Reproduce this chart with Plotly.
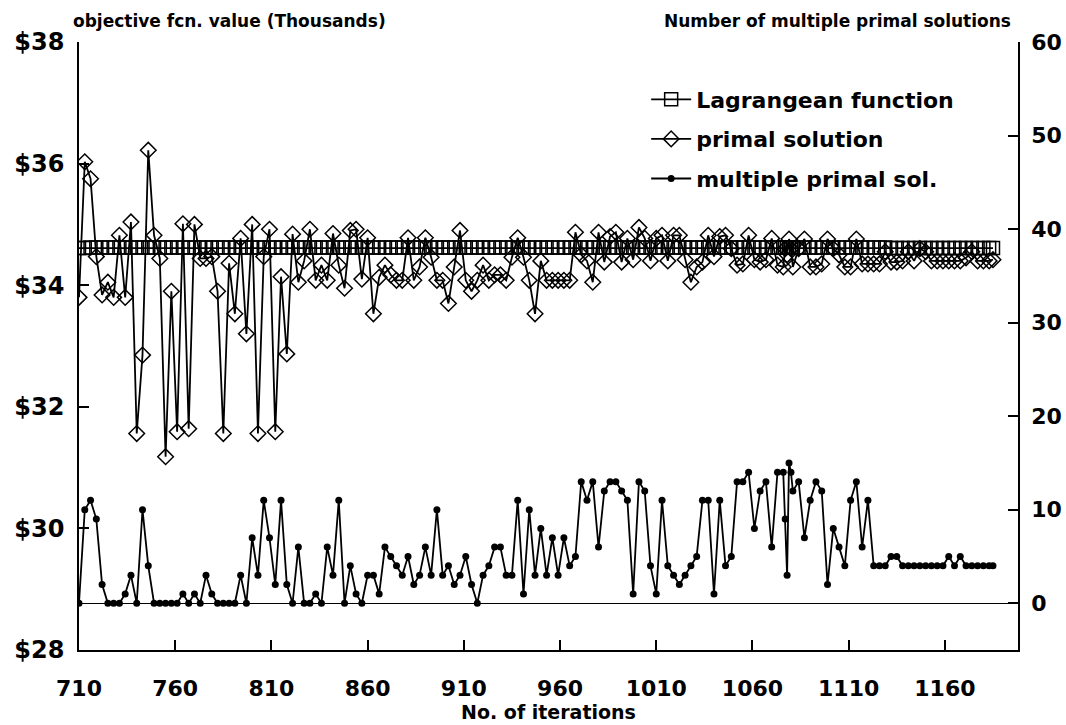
import plotly.graph_objects as go

# Iteration numbers (x) shared by all series
ITER_A = list(range(710, 1077, 3))              # 710 .. 1076
ITER_B = [1077, 1078, 1079, 1080, 1081]
ITER_C = [1084, 1087, 1090, 1093, 1096, 1099, 1102, 1105, 1108, 1111, 1114, 1117, 1120]
ITER_D = [1123, 1126, 1129, 1132, 1135, 1138, 1141, 1144, 1147, 1150, 1153,
          1156, 1159, 1162, 1165, 1168, 1171, 1174, 1177, 1180, 1183, 1185]
ITERATIONS = ITER_A + ITER_B + ITER_C + ITER_D

# Lagrangean function value (thousands of $)
LAGRANGEAN = [
    34.61, 34.61, 34.62, 34.62, 34.62, 34.62, 34.62, 34.62, 34.62, 34.62,
    34.62, 34.62, 34.62, 34.62, 34.62, 34.62, 34.62, 34.62, 34.62, 34.62,
    34.62, 34.62, 34.62, 34.62, 34.62, 34.62, 34.62, 34.62, 34.62, 34.62,
    34.62, 34.62, 34.62, 34.62, 34.62, 34.62, 34.62, 34.62, 34.62, 34.62,
    34.62, 34.62, 34.62, 34.62, 34.62, 34.62, 34.62, 34.62, 34.62, 34.62,
    34.62, 34.62, 34.62, 34.62, 34.62, 34.62, 34.62, 34.62, 34.62, 34.62,
    34.62, 34.62, 34.62, 34.62, 34.62, 34.62, 34.62, 34.62, 34.62, 34.62,
    34.62, 34.62, 34.62, 34.62, 34.62, 34.62, 34.62, 34.62, 34.62, 34.62,
    34.62, 34.62, 34.62, 34.62, 34.62, 34.62, 34.62, 34.62, 34.62, 34.62,
    34.62, 34.62, 34.62, 34.62, 34.62, 34.62, 34.62, 34.62, 34.62, 34.62,
    34.62, 34.62, 34.62, 34.62, 34.62, 34.62, 34.62, 34.62, 34.62, 34.62,
    34.62, 34.62, 34.62, 34.62, 34.62, 34.62, 34.62, 34.62, 34.62, 34.62,
    34.62, 34.62, 34.62, 34.62, 34.62, 34.62, 34.62, 34.62, 34.62, 34.62,
    34.62, 34.62, 34.62, 34.62, 34.62, 34.62, 34.62, 34.62, 34.62, 34.62,
    34.62, 34.62, 34.62, 34.62, 34.61, 34.61, 34.61, 34.61, 34.61, 34.61,
    34.61, 34.61, 34.61, 34.61, 34.61, 34.61, 34.61, 34.61, 34.61, 34.61,
    34.61, 34.61, 34.61,
]

# Primal solution value (thousands of $)
PRIMAL = [
    33.80, 36.03, 35.75, 34.47, 33.84, 34.05, 33.80, 34.82, 33.80, 35.04,
    31.56, 32.85, 36.22, 34.82, 34.44, 31.18, 33.90, 31.59, 35.01, 31.64,
    35.00, 34.44, 34.44, 34.47, 33.90, 31.56, 34.36, 33.53, 34.77, 33.20,
    35.00, 31.56, 34.47, 34.92, 31.59, 34.14, 32.87, 34.84, 34.05, 34.40,
    34.92, 34.08, 34.33, 34.08, 34.85, 34.33, 33.95, 34.90, 34.92, 34.10,
    34.78, 33.53, 34.13, 34.33, 34.17, 34.08, 34.08, 34.78, 34.08, 34.30,
    34.78, 34.46, 34.08, 34.08, 33.70, 34.30, 34.90, 34.08, 33.90, 34.08,
    34.33, 34.08, 34.17, 34.17, 34.08, 34.46, 34.78, 34.46, 34.08, 33.53,
    34.40, 34.08, 34.08, 34.08, 34.08, 34.08, 34.87, 34.50, 34.40, 34.05,
    34.87, 34.38, 34.80, 34.87, 34.38, 34.77, 34.42, 34.95, 34.77, 34.40,
    34.77, 34.82, 34.40, 34.82, 34.82, 34.42, 34.05, 34.30, 34.38, 34.82,
    34.47, 34.80, 34.82, 34.60, 34.33, 34.35, 34.82, 34.42, 34.38, 34.42,
    34.77, 34.33, 34.30,
    34.60, 34.50, 34.76, 34.60, 34.30,
    34.60, 34.76, 34.30, 34.30, 34.35, 34.76, 34.60, 34.50, 34.30, 34.30,
    34.76, 34.35, 34.35,
    34.35, 34.35, 34.55, 34.38, 34.38, 34.40, 34.55, 34.40, 34.60, 34.55,
    34.40, 34.40, 34.40, 34.40, 34.40, 34.40, 34.45, 34.55, 34.40, 34.40,
    34.40, 34.42,
]

# Number of multiple primal solutions (right axis)
MULTIPLE = [
    0, 10, 11, 9, 2, 0, 0, 0, 1, 3,
    0, 10, 4, 0, 0, 0, 0, 0, 1, 0,
    1, 0, 3, 1, 0, 0, 0, 0, 3, 0,
    7, 3, 11, 7, 2, 11, 2, 0, 6, 0,
    0, 1, 0, 6, 3, 11, 0, 4, 1, 0,
    3, 3, 1, 6, 5, 4, 3, 5, 2, 3,
    6, 3, 10, 3, 4, 2, 3, 5, 2, 0,
    3, 4, 6, 6, 3, 3, 11, 1, 10, 3,
    8, 3, 7, 3, 7, 4, 5, 13, 11, 13,
    6, 12, 13, 13, 12, 11, 1, 13, 12, 4,
    1, 11, 4, 3, 2, 3, 4, 5, 11, 11,
    1, 11, 4, 5, 13, 13, 14, 8, 12, 13,
    6, 14, 14,
    9, 3, 15, 14, 12,
    13, 7, 11, 13, 12, 2, 8, 6, 4, 11,
    13, 6, 11,
    4, 4, 4, 5, 5, 4, 4, 4, 4, 4,
    4, 4, 4, 5, 4, 5, 4, 4, 4, 4,
    4, 4,
]

Y_TICKS = [28, 30, 32, 34, 36, 38]
Y_TICK_TEXT = ["$28", "$30", "$32", "$34", "$36", "$38"]
X_TICKS = [710, 760, 810, 860, 910, 960, 1010, 1060, 1110, 1160]
Y2_TICKS = [0, 10, 20, 30, 40, 50, 60]

FONT = "DejaVu Sans"

fig = go.Figure()
fig.add_trace(go.Scatter(
    x=ITERATIONS, y=LAGRANGEAN, name="Lagrangean function",
    mode="lines+markers", legendgroup="a",
    line=dict(color="black", width=1.8),
    marker=dict(symbol="square-open", size=13, color="black", line=dict(width=1.5)),
))
fig.add_trace(go.Scatter(
    x=ITERATIONS, y=PRIMAL, name="primal solution",
    mode="lines+markers", legendgroup="b",
    line=dict(color="black", width=1.8),
    marker=dict(symbol="diamond-open", size=12, color="black", line=dict(width=1.5)),
))
fig.add_trace(go.Scatter(
    x=ITERATIONS, y=MULTIPLE, name="multiple primal sol.",
    mode="lines+markers", legendgroup="c", yaxis="y2",
    line=dict(color="black", width=1.8),
    marker=dict(symbol="circle", size=7, color="black"),
))

fig.update_layout(
    width=1066, height=725,
    margin=dict(l=79, r=48, t=42, b=75),
    paper_bgcolor="white", plot_bgcolor="white",
    font=dict(family=FONT, color="black", weight="bold"),
    showlegend=True,
    legend=dict(
        x=0.604, y=0.94, xanchor="left", yanchor="top",
        bgcolor="rgba(0,0,0,0)", tracegroupgap=8,
        font=dict(family=FONT, size=22, color="black", weight="bold"),
        itemwidth=40,
    ),
    xaxis=dict(
        range=[710, 1198], tickvals=X_TICKS,
        showline=True, linecolor="black", linewidth=1.5,
        ticks="inside", ticklen=10, tickwidth=1.5, tickcolor="black",
        showgrid=False, zeroline=False, mirror=False,
        ticklabelstandoff=18, automargin=False,
        tickfont=dict(family=FONT, size=22, color="black", weight="bold"),
        title=dict(text="No. of iterations", standoff=2,
                   font=dict(family=FONT, size=19, color="black", weight="bold")),
    ),
    yaxis=dict(
        range=[28, 38], tickvals=Y_TICKS, ticktext=Y_TICK_TEXT,
        showline=True, linecolor="black", linewidth=1.5,
        ticks="inside", ticklen=10, tickwidth=1.5, tickcolor="black",
        showgrid=False, zeroline=False, automargin=False,
        ticklabelstandoff=8,
        tickfont=dict(family=FONT, size=24, color="black", weight="bold"),
    ),
    yaxis2=dict(
        range=[-5, 60], tickvals=Y2_TICKS, overlaying="y", side="right",
        showline=True, linecolor="black", linewidth=1.5,
        ticks="inside", ticklen=10, tickwidth=1.5, tickcolor="black",
        showgrid=False, zeroline=True, zerolinecolor="black", zerolinewidth=1,
        ticklabelstandoff=7, automargin=False,
        tickfont=dict(family=FONT, size=22, color="black", weight="bold"),
    ),
    annotations=[
        dict(text="objective fcn. value (Thousands)", xref="paper", yref="paper",
             x=-0.008, y=1.035, xanchor="left", yanchor="middle", showarrow=False,
             font=dict(family=FONT, size=17, color="black", weight="bold")),
        dict(text="Number of multiple primal solutions", xref="paper", yref="paper",
             x=0.995, y=1.035, xanchor="right", yanchor="middle", showarrow=False,
             font=dict(family=FONT, size=17, color="black", weight="bold")),
    ],
)

fig.write_html("out.html")
